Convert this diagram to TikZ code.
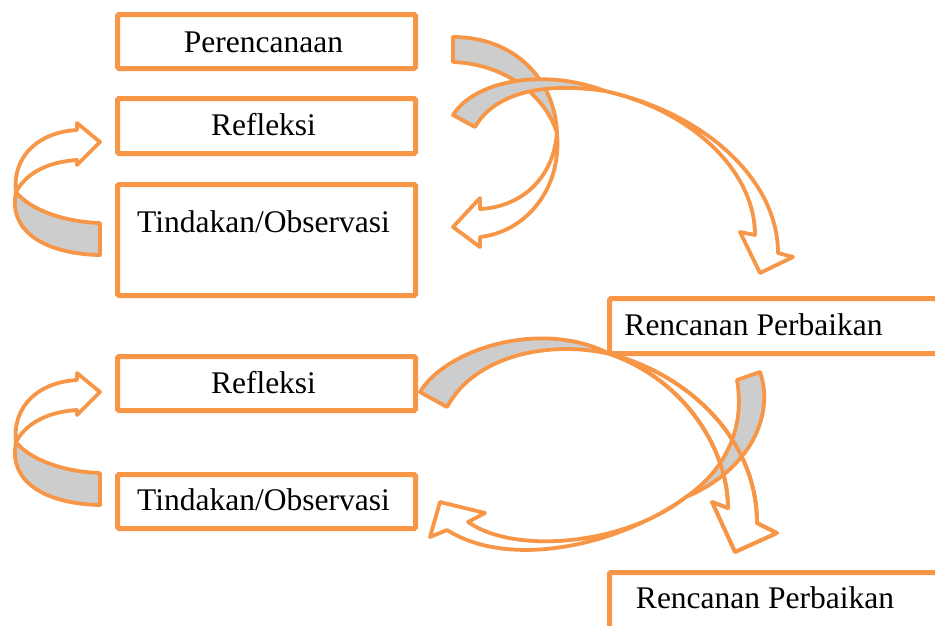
\documentclass[tikz,border=0pt]{standalone}
\usepackage{fontspec}
\setmainfont{Liberation Serif}
\definecolor{accent}{HTML}{F79646}
\definecolor{ribbon}{HTML}{CDCDCD}
\begin{document}
\begin{tikzpicture}[x=1pt,y=-1pt,
  box/.style={draw=accent, line width=5pt, rounded corners=1.5pt, fill=white, inner sep=0pt, anchor=north west},
  lbl/.style={font=\fontsize{31.5}{36}\selectfont, anchor=base, inner sep=0pt},
  front/.style={draw=accent, line width=3.8pt, line join=round, fill=white},
  back/.style={draw=accent, line width=3.8pt, line join=round, fill=ribbon}]
\useasboundingbox (0,0) rectangle (935,625);
\fill[white] (0,0) rectangle (935,625);
\clip (0,0) rectangle (935,625);

% boxes
\node[box, minimum width=298pt, minimum height=54pt] (plan) at (115,12) {};
\node[box, minimum width=298pt, minimum height=55pt] (ref1) at (115,96) {};
\node[box, minimum width=298pt, minimum height=111pt] (act1) at (115,182) {};
\node[box, minimum width=340pt, minimum height=55pt] (rp1) at (607,296) {};
\node[box, minimum width=298pt, minimum height=54pt] (ref2) at (115,354) {};
\node[box, minimum width=298pt, minimum height=54pt] (act2) at (115,472) {};
\node[box, minimum width=340pt, minimum height=70pt] (rp2) at (607,570) {};

% labels
\node[lbl] (tplan) at (263.5,52) {Perencanaan};
\node[lbl] (tref1) at (263.5,135) {Refleksi};
\node[lbl] (tact1) at (263.5,232) {Tindakan/Observasi};
\node[lbl] (trp1) at (753.5,335) {Rencanan Perbaikan};
\node[lbl] (tref2) at (263.5,393) {Refleksi};
\node[lbl] (tact2) at (263.5,510) {Tindakan/Observasi};
\node[lbl] (trp2) at (765,608) {Rencanan Perbaikan};

% small left arrows
\foreach \dy in {0,250}{
  \begin{scope}[shift={(0,\dy)}]
    \path[back] (16,192) .. controls (30,210) and (65,222) .. (100,223) -- (100,255)
      .. controls (50,254) and (13,235) .. (15,200) -- cycle;
    \path[front] (16,192) .. controls (12,155) and (40,132) .. (77,130) -- (77,123) -- (100,142)
      -- (77,165) -- (77,160) .. controls (45,162) and (25,175) .. (16,192) -- cycle;
  \end{scope}
}

% arrow A: Perencanaan -> Tindakan/Observasi
\path[back] (453,37) .. controls (515,37) and (555,80) .. (557,133)
  .. controls (545,95) and (505,64) .. (453,62) -- cycle;
\path[front] (557,133) .. controls (562,190) and (525,232) .. (480,237) -- (480,247) -- (453,227)
  -- (480,198) -- (480,209) .. controls (520,207) and (553,180) .. (557,133) -- cycle;

% arrow B: -> Rencanan Perbaikan
\path[back] (453,115) .. controls (475,80) and (545,68) .. (605,91)
  .. controls (545,82) and (495,92) .. (475,127) -- cycle;
\path[front] (605,91) .. controls (705,113) and (778,180) .. (778,253) -- (793,257) -- (760,273)
  -- (740,232) -- (755,235) .. controls (755,170) and (690,110) .. (605,91) -- cycle;

% arrow C (ribbon part): Refleksi -> Rencanan Perbaikan
\path[back] (420,392) .. controls (445,350) and (540,318) .. (610,354)
  .. controls (550,340) and (475,355) .. (447,407) -- cycle;
\path[front] (610,354) .. controls (690,375) and (757,440) .. (757,523) -- (777,533) -- (735,552)
  -- (712,502) -- (728,508) .. controls (728,450) and (685,380) .. (610,354) -- cycle;

% arrow D: Rencanan Perbaikan -> Tindakan/Observasi
\path[back] (737,380) -- (760,372) .. controls (775,415) and (750,470) .. (686,497)
  .. controls (728,468) and (745,425) .. (737,380) -- cycle;
\path[front] (686,497) .. controls (620,545) and (510,570) .. (447,530) -- (430,537) -- (440,502)
  -- (485,513) -- (468,522) .. controls (515,555) and (625,545) .. (686,497) -- cycle;

% arrow C outline redrawn over D
\path[front, fill=none] (610,354) .. controls (690,375) and (757,440) .. (757,523) -- (777,533) -- (735,552)
  -- (712,502) -- (728,508) .. controls (728,450) and (685,380) .. (610,354) -- cycle;
\end{tikzpicture}
\end{document}
